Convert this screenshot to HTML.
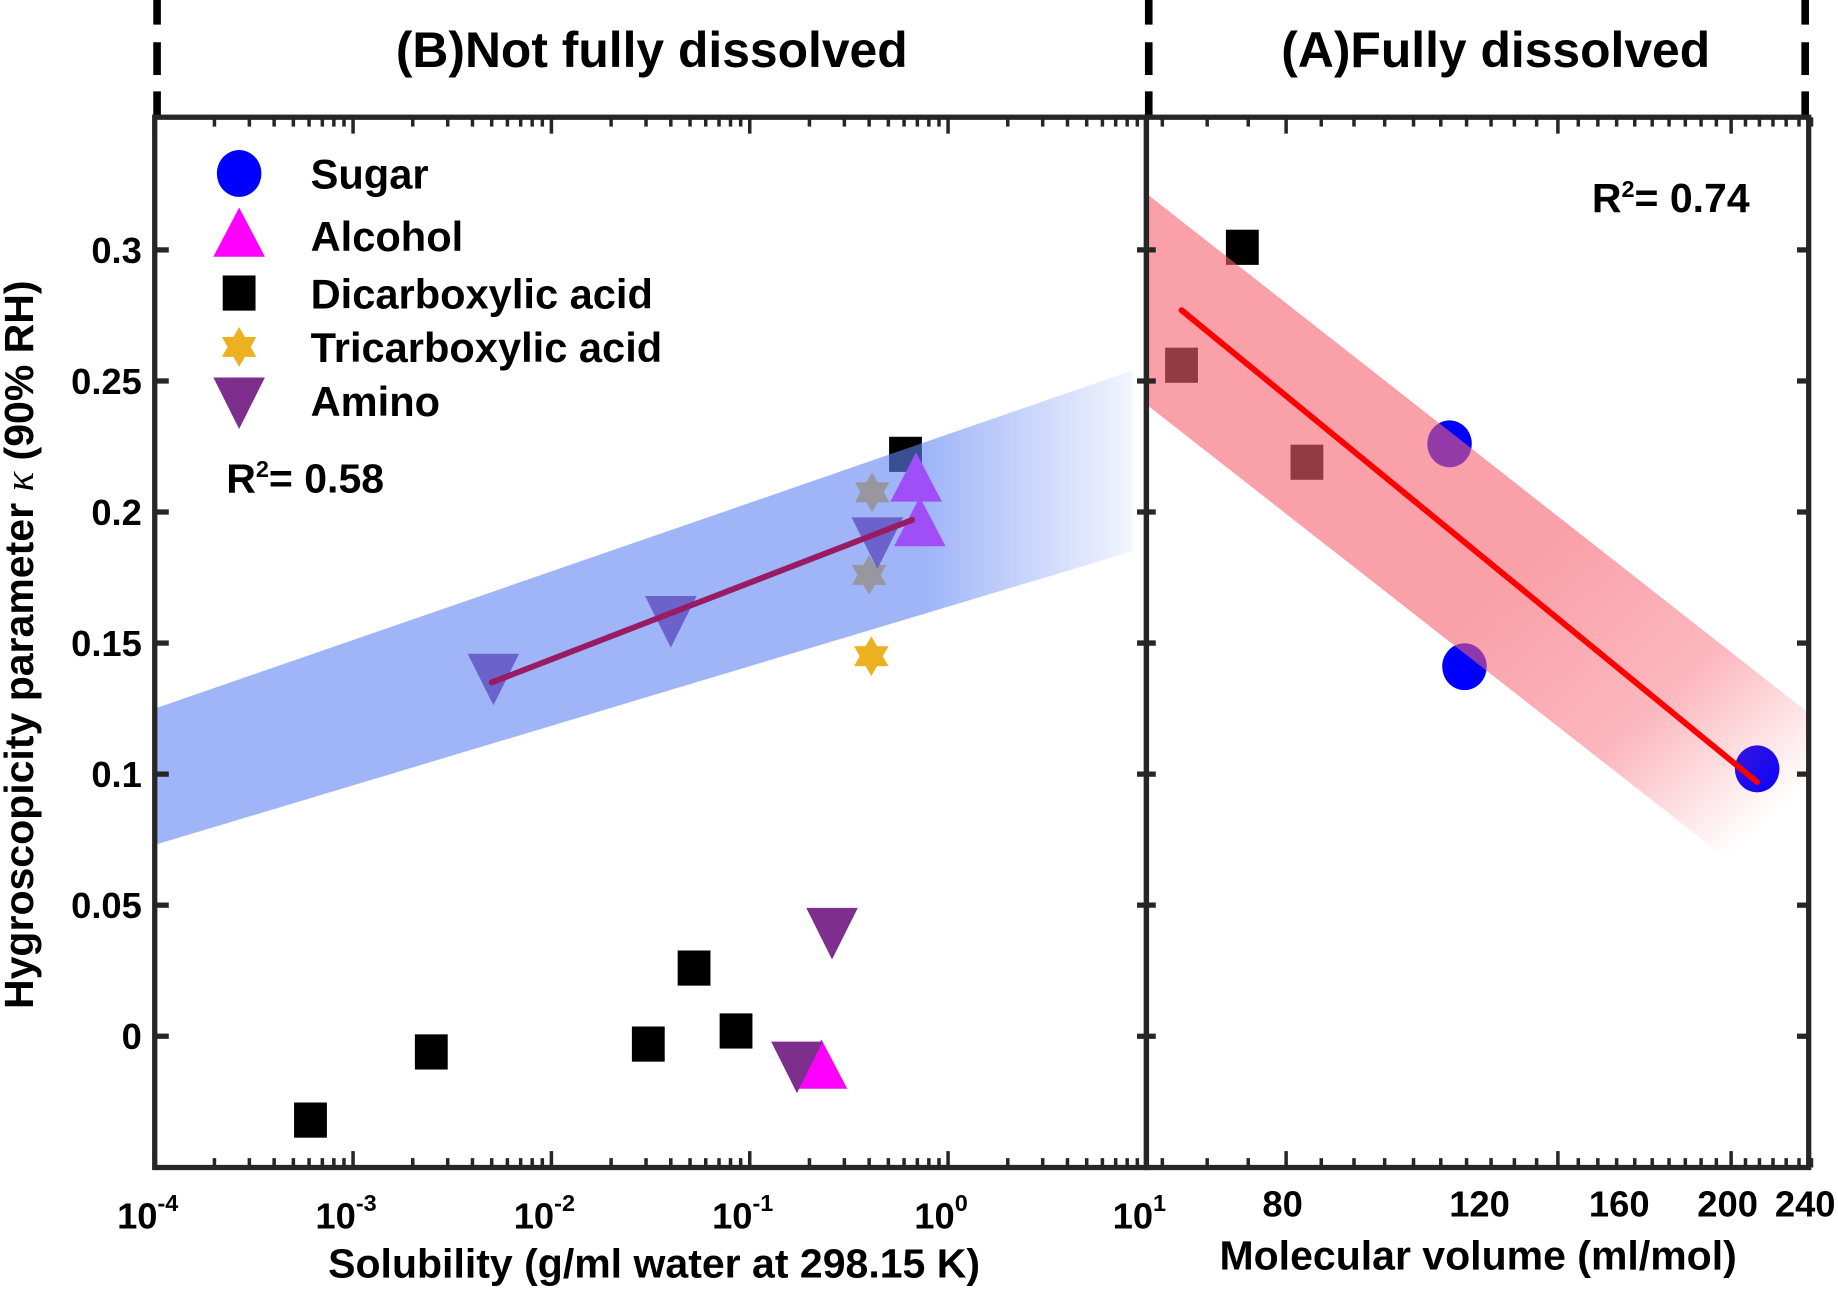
<!DOCTYPE html>
<html><head><meta charset="utf-8"><style>
html,body{margin:0;padding:0;background:#fff;}
svg{display:block;font-family:"Liberation Sans",Arial,sans-serif;font-weight:bold;}
</style></head><body>
<svg id="chart" width="1838" height="1290" viewBox="0 0 1568 1100.5" xmlns="http://www.w3.org/2000/svg">
<defs>
<linearGradient id="blueFade" gradientUnits="userSpaceOnUse" x1="790" y1="0" x2="975" y2="0">
<stop offset="0" stop-color="#5f84f3" stop-opacity="0.6"/>
<stop offset="1" stop-color="#5f84f3" stop-opacity="0.05"/>
</linearGradient>
<linearGradient id="redFade" gradientUnits="userSpaceOnUse" x1="1330" y1="460" x2="1530" y2="680">
<stop offset="0" stop-color="#f7616f" stop-opacity="0.6"/>
<stop offset="0.55" stop-color="#f7616f" stop-opacity="0.45"/>
<stop offset="1" stop-color="#f7616f" stop-opacity="0"/>
</linearGradient>
</defs>
<g id="dashes"></g>
<g id="left"></g>
<g id="right"></g>
<g id="axes"></g>
<text x="556" y="57" font-size="42.5" text-anchor="middle">(B)Not fully dissolved</text>
<text x="1276" y="57" font-size="42.5" text-anchor="middle">(A)Fully dissolved</text>
<text x="558" y="1090" font-size="35" text-anchor="middle">Solubility (g/ml water at 298.15 K)</text>
<text x="1261" y="1083" font-size="35" text-anchor="middle">Molecular volume (ml/mol)</text>
<text transform="translate(28,550) rotate(-90)" font-size="35" text-anchor="middle">Hygroscopicity parameter <tspan font-family="Liberation Serif,serif" font-style="italic" font-weight="normal">κ</tspan> (90% RH)</text>
<text x="193" y="420" font-size="35">R<tspan font-size="20" dy="-13">2</tspan><tspan dy="13">= 0.58</tspan></text>
<text x="1358" y="181" font-size="35">R<tspan font-size="20" dy="-13">2</tspan><tspan dy="13">= 0.74</tspan></text>
<g id="legend"></g>
</svg>
<script>
// ---- data ----
const yTicks = [0, 0.05, 0.1, 0.15, 0.2, 0.25, 0.3];
const yTickLabels = ['0', '0.05', '0.1', '0.15', '0.2', '0.25', '0.3'];
const leftDecades = [-4, -3, -2, -1, 0, 1];
const rightTicks = [80, 120, 160, 200, 240];
// left panel (solubility, kappa)
const aminoX = [0.0051, 0.040, 0.44, 0.173, 0.26];
const aminoY = [0.137, 0.159, 0.189, -0.011, 0.040];
const alcoholX = [0.69, 0.72, 0.23];
const alcoholY = [0.212, 0.195, -0.012];
const diacidLX = [0.61, 0.00061, 0.00248, 0.0308, 0.0524, 0.0853];
const diacidLY = [0.222, -0.032, -0.006, -0.003, 0.026, 0.002];
const triacidX = [0.414, 0.40, 0.41];
const triacidY = [0.2075, 0.176, 0.145];
const fitLX = [0.005, 0.66];
const fitLY = [0.135, 0.197];
const bandLX = [0.0001, 8.5];
const bandLTop = [0.125, 0.254];
const bandLBot = [0.073, 0.185];
// right panel (molecular volume, kappa)
const diacidRX = [73.1, 64.5, 83.5];
const diacidRY = [0.301, 0.256, 0.219];
const sugarX = [112, 115.5, 211];
const sugarY = [0.226, 0.141, 0.102];
const fitRX = [64.5, 211];
const fitRY = [0.277, 0.097];
const bandRX = [60, 240];
const bandRTop = [0.3215, 0.120];
const bandRBot = [0.241, 0.040];

// ---- axes functions ----
const L0 = 132, L1 = 978, R1 = 1543, T = 100, B = 996;
const yS = v => 884 - v * 2236;
const xL = v => L0 + (Math.log10(v) + 4) * 169.2;
const xR = v => L1 + Math.log10(v / 60) * 954;
const NS = 'http://www.w3.org/2000/svg';
function mk(tag, attrs, parent) {
  const e = document.createElementNS(NS, tag);
  for (const k in attrs) e.setAttribute(k, attrs[k]);
  parent.appendChild(e); return e;
}
const G = id => document.getElementById(id);

// dashes
for (const x of [134, 980, 1540]) {
  const d = mk('line', {x1: x, y1: 0, x2: x, y2: 100, stroke: '#000', 'stroke-width': 6.5, 'stroke-dasharray': '21 15 28 14 40'}, G('dashes'));
  
  
}

// markers
function circle(p, x, y, c) {
  const e = mk('ellipse', {cx: x, cy: y, rx: 19, ry: 20, fill: c}, p);
  
  
}
function square(p, x, y, c, name) {
  const e = mk('rect', {x: x - 14, y: y - 15, width: 28, height: 30, fill: c}, p);
  
  
}
function triUp(p, x, y, c, name) {
  const e = mk('polygon', {points: `${x},${y-24} ${x+22},${y+18} ${x-22},${y+18}`, fill: c}, p);
  
  
}
function triDown(p, x, y, c, name) {
  const e = mk('polygon', {points: `${x-22},${y-20} ${x+22},${y-20} ${x},${y+24}`, fill: c}, p);
  
  
}
function star(p, x, y, c, name) {
  const r = 17, pts = [];
  for (let i = 0; i < 12; i++) {
    const a = -Math.PI / 2 + i * Math.PI / 6, rr = i % 2 ? r * 0.58 : r;
    pts.push((x + rr * Math.cos(a)).toFixed(1) + ',' + (y + rr * Math.sin(a)).toFixed(1));
  }
  const e = mk('polygon', {points: pts.join(' '), fill: c}, p);
  
  
}

// left panel
const lp = G('left');
diacidLX.forEach((v, i) => square(lp, xL(v), yS(diacidLY[i]), '#000', 'dicarboxylic-point'));
triacidX.forEach((v, i) => star(lp, xL(v), yS(triacidY[i]), '#ecb120', 'tricarboxylic-point'));
alcoholX.forEach((v, i) => triUp(lp, xL(v), yS(alcoholY[i]), '#ff00ff', 'alcohol-point'));
aminoX.forEach((v, i) => triDown(lp, xL(v), yS(aminoY[i]), '#7e2f8e', 'amino-point'));
const bl = mk('polygon', {points: `${xL(bandLX[0])},${yS(bandLTop[0])} ${xL(bandLX[1])},${yS(bandLTop[1])} ${xL(bandLX[1])},${yS(bandLBot[1])} ${xL(bandLX[0])},${yS(bandLBot[0])}`, fill: 'url(#blueFade)'}, lp);


const fl = mk('line', {x1: xL(fitLX[0]), y1: yS(fitLY[0]), x2: xL(fitLX[1]), y2: yS(fitLY[1]), stroke: '#981b63', 'stroke-width': 5, 'stroke-linecap': 'round'}, lp);



// right panel
const rp = G('right');
diacidRX.forEach((v, i) => square(rp, xR(v), yS(diacidRY[i]), '#000', 'dicarboxylic-point'));
sugarX.forEach((v, i) => circle(rp, xR(v), yS(sugarY[i]), '#0000ff'));
const br = mk('polygon', {points: `${xR(bandRX[0])},${yS(bandRTop[0])} ${xR(bandRX[1])},${yS(bandRTop[1])} ${xR(bandRX[1])},${yS(bandRBot[1])} ${xR(bandRX[0])},${yS(bandRBot[0])}`, fill: 'url(#redFade)'}, rp);


const fr = mk('line', {x1: xR(fitRX[0]), y1: yS(fitRY[0]), x2: xR(fitRX[1]), y2: yS(fitRY[1]), stroke: '#ff0000', 'stroke-width': 5, 'stroke-linecap': 'round'}, rp);



// clip overflow outside plots (white cover)
const ax = G('axes');
mk('rect', {x: 0, y: 0, width: L0 - 2, height: 1100, fill: '#fff'}, ax);
mk('rect', {x: R1 + 2, y: 0, width: 30, height: 1100, fill: '#fff'}, ax);

// frames
const fa = {fill: 'none', stroke: '#262626', 'stroke-width': 4.5};
const f1 = mk('rect', Object.assign({x: L0, y: T, width: L1 - L0, height: B - T}, fa), ax);


const f2 = mk('rect', Object.assign({x: L1, y: T, width: R1 - L1, height: B - T}, fa), ax);



// y ticks (inward)
yTicks.forEach((v, i) => {
  const y = yS(v);
  for (const [x1, x2] of [[L0, L0 + 12], [L1 - 8, L1 + 8], [R1 - 10, R1]]) mk('line', {x1: x1, y1: y, x2: x2, y2: y, stroke: '#262626', 'stroke-width': 4.5}, ax);
  const t = mk('text', {x: 121, y: y + 11, 'font-size': 31, 'text-anchor': 'end'}, ax);
  t.textContent = yTickLabels[i];
  
  
});
// left log ticks
leftDecades.forEach(d => {
  const x = L0 + (d + 4) * 169.2;
  if (d < 1) for (let m = 2; m <= 9; m++) {
    const xm = x + Math.log10(m) * 169.2;
    for (const [y, s] of [[T, 1], [B, -1]]) mk('line', {x1: xm, y1: y, x2: xm, y2: y + s * 8, stroke: '#262626', 'stroke-width': 3}, ax);
  }
  for (const [y, s] of [[T, 1], [B, -1]]) mk('line', {x1: x, y1: y, x2: x, y2: y + s * 14, stroke: '#262626', 'stroke-width': 3}, ax);
  const t = mk('text', {x: x - 6, y: 1048, 'font-size': 31, 'text-anchor': 'middle'}, ax);
  t.innerHTML = '10<tspan font-size="20" dy="-15">' + (d < 0 ? '-' : '') + Math.abs(d) + '</tspan>';
  
  
});
// right ticks
for (let v = 62; v <= 240; v += 6) {
  const x = xR(v), len = (v - 80) % 20 === 0 ? 14 : 8;
  for (const [y, s] of [[T, 1], [B, -1]]) mk('line', {x1: x, y1: y, x2: x, y2: y + s * len, stroke: '#262626', 'stroke-width': 3}, ax);
}
rightTicks.forEach(v => {
  const t = mk('text', {x: Math.min(xR(v) - 3, 1540), y: 1038, 'font-size': 31, 'text-anchor': 'middle'}, ax);
  t.textContent = v;
  
  
});

// legend
const lg = G('legend');
const entries = ['Sugar', 'Alcohol', 'Dicarboxylic acid', 'Tricarboxylic acid', 'Amino'];
const ly = [148, 201, 250, 296, 342];
circle(lg, 204, ly[0], '#0000ff');
triUp(lg, 204, ly[1], '#ff00ff', 'legend-alcohol-marker');
square(lg, 204, ly[2], '#000', 'legend-dicarboxylic-marker');
star(lg, 204, ly[3], '#ecb120', 'legend-tricarboxylic-marker');
triDown(lg, 204, ly[4], '#7e2f8e', 'legend-amino-marker');
entries.forEach((s, i) => {
  const t = mk('text', {x: 265, y: ly[i] + 13, 'font-size': 35.5}, lg);
  t.textContent = s;
  
  
});
</script>
</body></html>
